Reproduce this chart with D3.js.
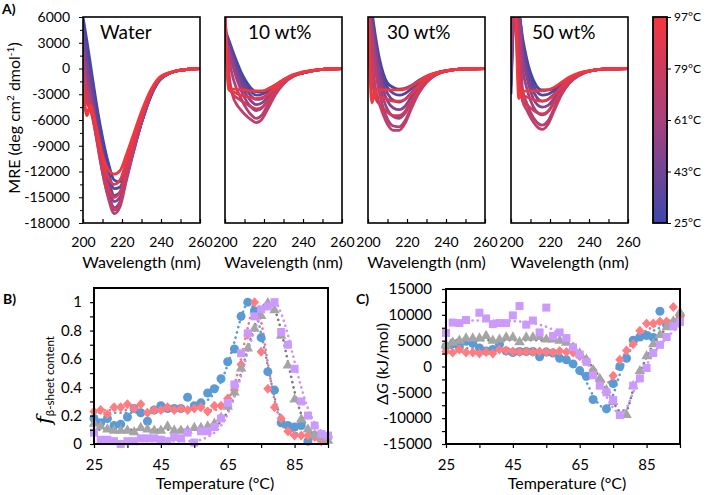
<!DOCTYPE html>
<html><head><meta charset="utf-8">
<script src="https://cdn.jsdelivr.net/npm/d3@7"></script>
<style>body{margin:0;background:#fff}</style>
</head><body><svg id="c" width="708" height="495"></svg>
<script>
// ---------------- DATA ----------------
// Panel A: CD spectra (MRE) at selected temperatures
const wavelengths = [200,202,204,206,208,210,213,216,219,222,226,230,235,240,250,260];
const spectraTemps = [25,33,41,49,57,65,73,81,89,97];
const spectraWater = [
 [6000,3200,200,-2800,-5600,-8000,-11000,-13000,-13200,-11800,-9200,-6300,-3100,-1200,-200,0],
 [5000,2000,-800,-3800,-6600,-9000,-12000,-14000,-13800,-12100,-9300,-6300,-3100,-1200,-200,0],
 [4000,800,-1800,-4600,-7400,-9800,-12800,-14800,-14400,-12400,-9400,-6300,-3000,-1200,-200,0],
 [2500,-300,-2800,-5400,-8200,-10700,-13600,-15500,-15000,-12700,-9500,-6300,-3000,-1100,-200,0],
 [1500,-1300,-3600,-6200,-8900,-11400,-14400,-16200,-15500,-13000,-9600,-6300,-2900,-1100,-200,0],
 [500,-2200,-4300,-6800,-9500,-12100,-15100,-16900,-16100,-13300,-9600,-6200,-2900,-1100,-200,0],
 [-500,-3000,-4800,-7000,-9600,-12100,-14900,-16500,-15700,-13000,-9400,-6100,-2800,-1100,-200,0],
 [-1500,-4000,-4800,-6800,-9200,-11500,-13900,-15000,-14400,-12000,-8800,-5800,-2700,-1000,-200,0],
 [-2000,-5000,-4500,-6400,-8600,-10700,-12700,-13500,-13000,-11000,-8200,-5400,-2500,-1000,-200,0],
 [-2500,-5500,-4200,-6000,-8100,-10100,-11800,-12300,-11900,-10200,-7600,-5000,-2400,-900,-200,0]
];
const spectra10 = [
 [4500,3300,2000,800,-300,-1200,-2200,-2700,-2700,-2400,-1900,-1300,-800,-500,-100,0],
 [4200,3000,1700,400,-700,-1600,-2600,-3100,-3000,-2600,-2000,-1400,-800,-500,-100,0],
 [4000,2700,1300,0,-1200,-2100,-3100,-3600,-3500,-2900,-2100,-1400,-800,-500,-100,0],
 [3800,2400,900,-500,-1700,-2700,-3700,-4200,-4000,-3300,-2300,-1500,-800,-500,-100,0],
 [3600,2000,300,-1200,-2400,-3400,-4400,-4900,-4600,-3700,-2500,-1600,-900,-500,-100,0],
 [4500,1200,-1000,-2400,-3400,-4300,-5300,-5800,-5400,-4200,-2800,-1700,-900,-500,-100,0],
 [6000,-500,-3200,-4200,-4800,-5300,-5900,-6300,-5900,-4700,-3000,-1800,-900,-500,-100,0],
 [7000,-2000,-3000,-3400,-3700,-4000,-4400,-4700,-4500,-3700,-2600,-1600,-800,-500,-100,0],
 [7000,-2500,-2700,-2900,-3100,-3200,-3400,-3500,-3400,-3000,-2200,-1400,-800,-400,-100,0],
 [7000,-2500,-2400,-2400,-2500,-2500,-2600,-2600,-2600,-2400,-1900,-1300,-700,-400,-100,0]
];
const spectra30 = [
 [8000,6500,3500,1000,-700,-1700,-2200,-2400,-2300,-2000,-1400,-900,-500,-250,-50,0],
 [8000,6000,3000,500,-1200,-2200,-2900,-3100,-2900,-2400,-1600,-1000,-500,-250,-50,0],
 [8000,5500,2500,0,-1800,-2900,-3700,-3900,-3600,-2900,-1900,-1100,-600,-300,-50,0],
 [8000,5000,1800,-800,-2600,-3800,-4600,-4800,-4400,-3400,-2200,-1300,-600,-300,-50,0],
 [8000,4500,800,-1800,-3600,-4800,-5600,-5800,-5200,-4000,-2500,-1400,-700,-300,-50,0],
 [8000,3500,-500,-3000,-4700,-5900,-6700,-6800,-6100,-4600,-2800,-1600,-700,-300,-50,0],
 [8000,1500,-2500,-4200,-5500,-6500,-7200,-7200,-6400,-4800,-2900,-1600,-700,-300,-50,0],
 [8000,-1000,-3500,-4200,-4700,-5100,-5500,-5500,-5000,-3900,-2500,-1400,-700,-300,-50,0],
 [8000,-3000,-3200,-3300,-3400,-3600,-3800,-3800,-3600,-3000,-2000,-1200,-600,-300,-50,0],
 [8000,-4000,-2600,-2500,-2500,-2500,-2500,-2500,-2400,-2100,-1500,-900,-500,-250,-50,0]
];
const spectra50 = [
 [-3000,7000,6500,3500,1200,-500,-2000,-2500,-2500,-2300,-1700,-1100,-600,-300,-50,0],
 [-2000,7000,6500,3000,600,-1100,-2600,-3100,-3000,-2600,-1900,-1200,-600,-300,-50,0],
 [-1000,7000,6500,2400,0,-1800,-3300,-3800,-3600,-3000,-2100,-1300,-700,-300,-50,0],
 [0,7000,6500,1500,-900,-2600,-4100,-4500,-4300,-3500,-2300,-1400,-700,-300,-50,0],
 [1000,7000,6000,0,-2200,-3700,-5000,-5400,-5000,-4000,-2600,-1500,-800,-300,-50,0],
 [3000,7000,4000,-2500,-4000,-5100,-6200,-6600,-6100,-4700,-2900,-1600,-800,-300,-50,0],
 [5000,7000,2000,-3800,-4800,-5700,-6700,-7100,-6500,-5000,-3000,-1700,-800,-300,-50,0],
 [7000,7000,0,-3800,-4200,-4600,-5100,-5300,-5000,-4000,-2600,-1500,-700,-300,-50,0],
 [7000,7000,-2000,-3200,-3300,-3500,-3700,-3800,-3600,-3100,-2100,-1300,-600,-300,-50,0],
 [7000,7000,-3500,-2700,-2600,-2600,-2600,-2600,-2500,-2200,-1600,-1000,-500,-250,-50,0]
];
const panelNamesA = ["Water","10 wt%","30 wt%","50 wt%"];
const yTicksA = [6000,3000,0,-3000,-6000,-9000,-12000,-15000,-18000];
const yMinorA = [4500,1500,-1500,-4500,-7500,-10500,-13500,-16500];
const xTicksA = [200,210,220,230,240,250,260];
const xLabelsA = [200,220,240,260];
const colorbarTicks = [25,43,61,79,97];

// Panels B and C: temperature series
const temps = [25,27,29,31,33,35,37,39,41,43,45,47,49,51,53,55,57,59,61,63,65,67,69,71,73,75,77,79,81,83,85,87,89,91,93,95];
const fBlue   = [0.18,0.15,0.18,0.13,0.14,0.19,0.25,0.22,0.16,0.24,0.27,0.25,0.25,0.25,0.33,0.27,0.29,0.36,0.39,0.46,0.58,0.67,0.90,1.00,0.94,0.75,0.51,0.38,0.15,0.13,0.12,0.13,0.02,0.06,0.06,0.05];
const fRed    = [0.23,0.24,0.21,0.26,0.26,0.28,0.25,0.28,0.22,0.24,0.24,0.26,0.24,0.25,0.24,0.25,0.26,0.23,0.27,0.27,0.32,0.38,0.56,0.77,1.00,0.65,0.39,0.26,0.18,0.09,0.06,0.06,0.06,0.05,0.02,0.04];
const fGray   = [0.15,0.13,0.11,0.10,0.10,0.10,0.09,0.12,0.11,0.10,0.10,0.13,0.10,0.10,0.10,0.12,0.12,0.13,0.15,0.19,0.27,0.37,0.54,0.68,0.82,0.91,1.00,0.95,0.77,0.56,0.32,0.18,0.11,0.07,0.05,0.03];
const fPurple = [0.08,0.03,0.03,0.02,0.00,0.02,0.02,0.04,0.04,0.04,0.03,0.02,0.05,0.04,0.08,0.01,0.09,0.09,0.12,0.18,0.29,0.42,0.64,0.78,0.90,0.95,0.97,1.00,0.79,0.70,0.53,0.30,0.20,0.13,0.07,0.06];
const fitBlueB   = [0.22,0.22,0.22,0.22,0.22,0.22,0.22,0.22,0.22,0.23,0.23,0.23,0.24,0.24,0.25,0.26,0.28,0.31,0.36,0.44,0.56,0.72,0.89,0.99,0.95,0.78,0.55,0.33,0.18,0.11,0.08,0.07,0.06,0.06,0.06,0.06];
const fitRedB    = [0.24,0.24,0.24,0.24,0.24,0.24,0.24,0.24,0.24,0.24,0.24,0.24,0.24,0.24,0.24,0.24,0.24,0.24,0.24,0.26,0.31,0.42,0.60,0.82,0.97,0.86,0.57,0.31,0.15,0.08,0.06,0.05,0.05,0.05,0.05,0.05];
const fitGrayB   = [0.10,0.10,0.10,0.10,0.10,0.10,0.10,0.10,0.10,0.10,0.10,0.10,0.10,0.10,0.10,0.10,0.10,0.10,0.12,0.16,0.23,0.34,0.50,0.67,0.83,0.95,1.00,0.95,0.80,0.58,0.37,0.21,0.11,0.06,0.04,0.03];
const fitPurpleB = [0.02,0.02,0.02,0.02,0.02,0.02,0.02,0.02,0.02,0.02,0.02,0.02,0.02,0.02,0.02,0.02,0.03,0.05,0.08,0.13,0.21,0.33,0.48,0.65,0.80,0.92,0.99,1.00,0.92,0.77,0.58,0.40,0.25,0.15,0.09,0.05];

const gBlue   = [3900,4400,3800,4900,4500,3600,3000,3300,4300,3000,2700,2900,2900,2900,1900,2800,2600,1600,1300,500,-800,-1900,-6400,null,-8200,-3300,0,1600,5100,5700,6000,5600,10700,8200,8300,9900];
const gRed    = [2900,2700,3300,2700,2700,2500,2800,2500,3300,3100,2900,2800,2900,2800,2900,2800,2700,3000,2800,2700,2000,1200,-700,-2600,null,-1800,1300,3100,4300,6900,8300,8300,8700,8700,11500,9400];
const gGray   = [4300,4800,5200,5600,5600,5600,6100,5200,5400,5800,5800,4900,5800,5800,5900,5400,5400,5200,4800,3900,2700,1500,-500,-2200,-4400,-6700,null,-9200,-3600,-700,2200,4500,6300,7800,8900,10600];
const gPurple = [6500,8500,8400,9000,null,10400,9300,8200,8400,8400,9900,11700,8100,8900,6600,11400,5900,6600,5500,3700,2300,900,-1700,-3700,-5000,-6500,-9400,null,-3700,-2300,-300,2600,4200,5700,7800,8600];
const fitBlueC   = [3600,3600,3600,3550,3500,3500,3450,3400,3350,3300,3200,3150,3100,3000,2800,2600,2300,1800,1200,300,-1000,-3000,-5600,-7500,-8100,-5500,-1500,1800,4000,5300,6200,6900,7500,8000,8500,9000];
const fitRedC    = [2900,2900,2900,2900,2900,2900,2900,2900,2900,2900,2900,2900,2900,2900,2900,2900,2900,2900,2800,2600,2000,1000,-400,-2000,-3200,-1800,900,3000,4700,6000,7000,7700,8300,8700,9100,9400];
const fitGrayC   = [5100,5100,5100,5100,5100,5100,5100,5100,5100,5100,5100,5100,5100,5100,5100,5100,5100,4900,4500,3700,2600,1300,-300,-2200,-4400,-6800,-8600,-8400,-4500,-1200,1800,4200,6000,7400,8500,9400];
const fitPurpleC = [8700,8800,8900,8900,8900,8900,8900,8900,8900,8850,8800,8700,8600,8400,8100,7700,7100,6300,5300,4000,2500,800,-1200,-3400,-5800,-8000,-9000,-8000,-5000,-2200,300,2400,4100,5500,6800,8000];

const xTicksT = [25,35,45,55,65,75,85,95];
const xLabelsT = [25,45,65,85];
const yTicksB = [0,0.2,0.4,0.6,0.8,1];
const yLabelsB = ["0","0.2","0.4","0.6","0.8","1"];
const yMinorB = [0.1,0.3,0.5,0.7,0.9];
const yTicksC = [-15000,-10000,-5000,0,5000,10000,15000];
const yMinorC = [-12500,-7500,-2500,2500,7500,12500];

// ---------------- DRAW ----------------
const FONT = "Lato, 'Open Sans', 'DejaVu Sans', sans-serif";
const svg = d3.select("#c").attr("font-family", FONT);
svg.append("rect").attr("width",708).attr("height",495).attr("fill","#fff");
const defs = svg.append("defs");

// ---- Panel A ----
const spectraPanels = [spectraWater, spectra10, spectra30, spectra50];
const aLefts = [83,225,368,511], aW = 117, aTop = 17, aBot = 223;
const labelDx = [17,23,19,21];
const yA = d3.scaleLinear().domain([-18000,6000]).range([aBot,aTop]);
const tempColor = d3.scaleLinear().domain([25,61,97]).range(["#3c48aa","#a8417e","#f2373d"]);

spectraPanels.forEach((rows,i)=>{
  const x0 = aLefts[i];
  const xA = d3.scaleLinear().domain([200,260]).range([x0,x0+aW]);
  defs.append("clipPath").attr("id","clipA"+i).append("rect")
    .attr("x",x0).attr("y",aTop).attr("width",aW).attr("height",aBot-aTop);
  const line = d3.line().x((d,j)=>xA(wavelengths[j])).y(d=>yA(d)).curve(d3.curveMonotoneX);
  const g = svg.append("g").attr("clip-path",`url(#clipA${i})`);
  rows.forEach((r,k)=>{
    g.append("path").attr("d",line(r)).attr("fill","none")
      .attr("stroke",tempColor(spectraTemps[k])).attr("stroke-width",2.8)
      .attr("stroke-linejoin","round");
  });
  const ax = d3.axisBottom(xA).tickValues(xTicksA).tickSize(-4).tickPadding(14)
    .tickFormat(d=> xLabelsA.includes(d) ? String(d) : "");
  svg.append("g").attr("transform",`translate(0,${aBot})`).call(ax)
    .attr("font-family",FONT).attr("font-size",14)
    .call(s=>s.select(".domain").remove())
    .call(s=>s.selectAll("line").attr("stroke-width",1.2));
  svg.append("rect").attr("x",x0).attr("y",aTop).attr("width",aW).attr("height",aBot-aTop)
    .attr("fill","none").attr("stroke","#000").attr("stroke-width",1.6);
  svg.append("text").attr("x",x0+labelDx[i]).attr("y",39).attr("font-size",19).text(panelNamesA[i]);
  svg.append("text").attr("x",x0+aW/2).attr("y",268).attr("text-anchor","middle")
    .attr("font-size",16).text("Wavelength (nm)");
});
// y axis of first panel
svg.append("g").attr("transform",`translate(${aLefts[0]},0)`)
  .call(d3.axisLeft(yA).tickValues(yTicksA).tickSize(4).tickPadding(9).tickFormat(d=>String(d)))
  .attr("font-family",FONT).attr("font-size",14)
  .call(s=>s.select(".domain").remove());
svg.append("g").attr("transform",`translate(${aLefts[0]},0)`)
  .call(d3.axisLeft(yA).tickValues(yMinorA).tickSize(3).tickFormat(""))
  .call(s=>s.select(".domain").remove());
// y title
const mre = svg.append("text").attr("transform","translate(20,118) rotate(-90)")
  .attr("text-anchor","middle").attr("font-size",16);
mre.append("tspan").text("MRE (deg cm");
mre.append("tspan").text("2").attr("font-size",10).attr("dy",-6);
mre.append("tspan").text(" dmol").attr("dy",6);
mre.append("tspan").text("-1").attr("font-size",10).attr("dy",-6);
mre.append("tspan").text(")").attr("dy",6);
svg.append("text").attr("x",2).attr("y",14).attr("font-size",14).attr("font-weight","bold").text("A)");

// colorbar
const cbX = 653, cbW = 14;
const cbScale = d3.scaleLinear().domain([25,97]).range([aBot,aTop]);
const grad = defs.append("linearGradient").attr("id","cbGrad")
  .attr("x1",0).attr("y1",1).attr("x2",0).attr("y2",0);
colorbarTicks.forEach(t=>{
  grad.append("stop").attr("offset",(t-25)/72).attr("stop-color",tempColor(t));
});
svg.append("rect").attr("x",cbX).attr("y",aTop).attr("width",cbW).attr("height",aBot-aTop)
  .attr("fill","url(#cbGrad)").attr("stroke","#000").attr("stroke-width",1.8);
svg.append("g").attr("transform",`translate(${cbX+cbW},0)`)
  .call(d3.axisRight(cbScale).tickValues(colorbarTicks).tickSize(4).tickPadding(3).tickFormat(d=>d+"°C"))
  .attr("font-family",FONT).attr("font-size",12)
  .call(s=>s.select(".domain").remove());

// ---- Panels B & C ----
const seriesStyle = [
  {name:"blue", fill:"#5b9bd5", line:"#5b9bd5", shape:"circle"},
  {name:"red", fill:"#ff7c80", line:"#ff6f73", shape:"diamond"},
  {name:"gray", fill:"#a5a5a5", line:"#7b7b7b", shape:"triangle"},
  {name:"purple", fill:"#cc99ff", line:"#c793ff", shape:"square"}
];
const shapePath = {
  circle: d3.symbol(d3.symbolCircle, 64)(),
  diamond: "M0,-5L4.6,0L0,5L-4.6,0Z",
  triangle: "M0,-5.2L5.3,4L-5.3,4Z",
  square: "M-4,-4h8v8h-8Z"
};

function tempPanel(opt){
  const x = d3.scaleLinear().domain([25,95]).range([opt.left,opt.right]);
  const y = d3.scaleLinear().domain(opt.ydom).range([opt.bottom,opt.top]);
  const line = d3.line().defined(d=>d[1]!==null).x(d=>x(d[0])).y(d=>y(d[1])).curve(d3.curveMonotoneX);
  opt.fits.forEach((fv,si)=>{
    svg.append("path").attr("d",line(temps.map((t,j)=>[t,fv[j]])))
      .attr("fill","none").attr("stroke",seriesStyle[si].line).attr("stroke-width",2.6)
      .attr("stroke-dasharray","0.1,5.2").attr("stroke-linecap","round");
  });
  opt.series.forEach((sv,si)=>{
    const pts = temps.map((t,j)=>[t,sv[j]]).filter(d=>d[1]!==null);
    svg.append("g").selectAll("path").data(pts).join("path")
      .attr("d",shapePath[seriesStyle[si].shape])
      .attr("transform",d=>`translate(${x(d[0])},${y(d[1])})`)
      .attr("fill",seriesStyle[si].fill);
  });
  svg.append("g").attr("transform",`translate(0,${opt.bottom})`)
    .call(d3.axisBottom(x).tickValues(xTicksT).tickSize(4).tickPadding(11)
      .tickFormat(d=>xLabelsT.includes(d)?String(d):""))
    .attr("font-family",FONT).attr("font-size",15)
    .call(s=>s.select(".domain").remove())
    .call(s=>s.selectAll("line").attr("stroke-width",1.2));
  svg.append("g").attr("transform",`translate(${opt.left},0)`)
    .call(d3.axisLeft(y).tickValues(opt.yticks).tickSize(4).tickPadding(opt.pad)
      .tickFormat((d,i)=>opt.ylabels[i]))
    .attr("font-family",FONT).attr("font-size",15)
    .call(s=>s.select(".domain").remove())
    .call(s=>s.selectAll("line").attr("stroke-width",1.2));
  svg.append("g").attr("transform",`translate(${opt.left},0)`)
    .call(d3.axisLeft(y).tickValues(opt.yminor).tickSize(4).tickFormat(""))
    .call(s=>s.select(".domain").remove())
    .call(s=>s.selectAll("line").attr("stroke-width",1.2));
  svg.append("rect").attr("x",opt.left).attr("y",opt.top)
    .attr("width",opt.right-opt.left).attr("height",opt.bottom-opt.top)
    .attr("fill","none").attr("stroke","#000").attr("stroke-width",2);
  svg.append("text").attr("x",(opt.left+opt.right)/2+4).attr("y",489)
    .attr("text-anchor","middle").attr("font-size",16).text("Temperature (°C)");
}

tempPanel({left:94,right:328,top:288,bottom:444,ydom:[0,1.1],
  yticks:yTicksB, ylabels:yLabelsB, yminor:yMinorB, pad:8,
  fits:[fitBlueB,fitRedB,fitGrayB,fitPurpleB],
  series:[fBlue,fRed,fGray,fPurple]});
tempPanel({left:446,right:680,top:289,bottom:444,ydom:[-15000,15000],
  yticks:yTicksC, ylabels:yTicksC.map(String), yminor:yMinorC, pad:10,
  fits:[fitBlueC,fitRedC,fitGrayC,fitPurpleC],
  series:[gBlue,gRed,gGray,gPurple]});

// B y title
const fl = svg.append("text").attr("transform","translate(51,380) rotate(-90)").attr("text-anchor","middle");
fl.append("tspan").text("f").attr("font-family","'DejaVu Serif', serif").attr("font-style","italic").attr("font-size",21);
fl.append("tspan").text("β-sheet content").attr("font-size",11.5).attr("dy",3);
// C y title
const dg = svg.append("text").attr("transform","translate(388,364) rotate(-90)").attr("text-anchor","middle").attr("font-size",16);
dg.append("tspan").text("Δ");
dg.append("tspan").text("G").attr("font-style","italic");
dg.append("tspan").text(" (kJ/mol)");

svg.append("text").attr("x",3).attr("y",304).attr("font-size",14).attr("font-weight","bold").text("B)");
svg.append("text").attr("x",356).attr("y",304).attr("font-size",14).attr("font-weight","bold").text("C)");
</script></body></html>
